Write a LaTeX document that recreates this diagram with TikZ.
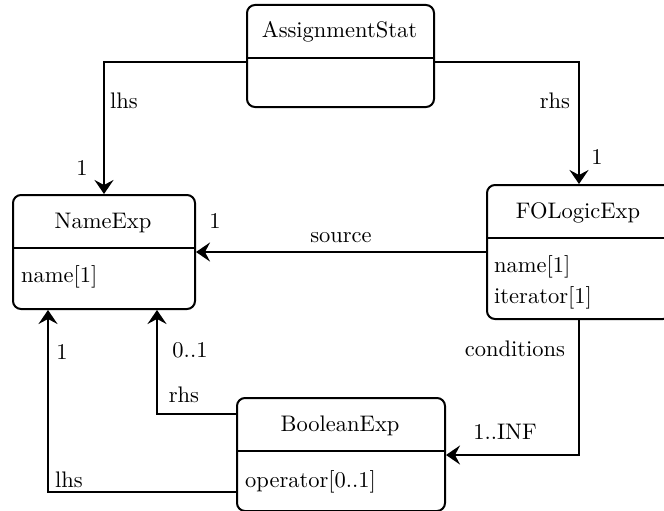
\documentclass[tikz,border=0pt]{standalone}
\usepackage{fontspec}
\setmainfont{lmroman10-regular.otf}
\usetikzlibrary{arrows.meta}
\begin{document}
\begin{tikzpicture}[x=1pt,y=-1pt,
  every node/.style={font=\fontsize{22.5}{27}\selectfont, inner sep=0pt},
  classbox/.style={draw, line width=2pt, rounded corners=8pt, anchor=north west},
  divider/.style={line width=2pt},
  assoc/.style={line width=2pt, -{Stealth[length=14pt,width=19pt,inset=5pt]}},
  attr/.style={anchor=base west},
  lbl/.style={}]
\useasboundingbox (0,0) rectangle (664,511);
\begin{scope}
\clip (0,0) rectangle (664,511);

% class boxes
\node[classbox, minimum width=187pt, minimum height=102pt] (as) at (246,4) {};
\node[classbox, minimum width=182pt, minimum height=114pt] (ne) at (12,194) {};
\node[classbox, minimum width=184pt, minimum height=134pt] (fo) at (486,184) {};
\node[classbox, minimum width=208pt, minimum height=113pt] (be) at (236,397) {};

% compartment dividers
\draw[divider] (as.west |- 0,58) -- (as.east |- 0,58);
\draw[divider] (ne.west |- 0,248) -- (ne.east |- 0,248);
\draw[divider] (fo.west |- 0,238) -- (fo.east |- 0,238);
\draw[divider] (be.west |- 0,451) -- (be.east |- 0,451);

% class names
\node[anchor=base] (as-t) at (339.5,38) {AssignmentStat};
\node[anchor=base] (ne-t) at (103,228) {NameExp};
\node[anchor=base] (fo-t) at (578,218) {FOLogicExp};
\node[anchor=base] (be-t) at (340,431) {BooleanExp};

% attributes
\node[attr] (ne-a1) at (21,282) {name[1]};
\node[attr] (fo-a1) at (494,272) {name[1]};
\node[attr] (fo-a2) at (494,303) {iterator[1]};
\node[attr] (be-a1) at (245,487) {operator[0..1]};
\end{scope}

% associations
\draw[assoc] (as.west |- 0,62) -| (ne.north);
\draw[assoc] (as.east |- 0,62) -| (fo.north);
\draw[assoc] (fo.west |- 0,252) -- (ne.east |- 0,252);
\draw[assoc] (fo.south) |- (be.east |- 0,455);
\draw[assoc] (be.west |- 0,414) -| ([xshift=145pt]ne.south west);
\draw[assoc] (be.west |- 0,492) -| ([xshift=36pt]ne.south west);

% role names and multiplicities
\node[lbl] (l-lhs1) at (124,101) {lhs};
\node[lbl] (m-lhs1) at (82,168) {1};
\node[lbl] (l-rhs1) at (555,101) {rhs};
\node[lbl] (m-rhs1) at (597,157) {1};
\node[lbl] (l-src) at (341,238) {source};
\node[lbl] (m-src) at (215,221) {1};
\node[lbl] (l-cond) at (515,349) {conditions};
\node[lbl] (m-cond) at (505,432) {1..INF};
\node[lbl] (l-rhs2) at (184,395) {rhs};
\node[lbl] (m-rhs2) at (190,350) {0..1};
\node[lbl] (l-lhs2) at (69,480) {lhs};
\node[lbl] (m-lhs2) at (62,352) {1};
\end{tikzpicture}
\end{document}
